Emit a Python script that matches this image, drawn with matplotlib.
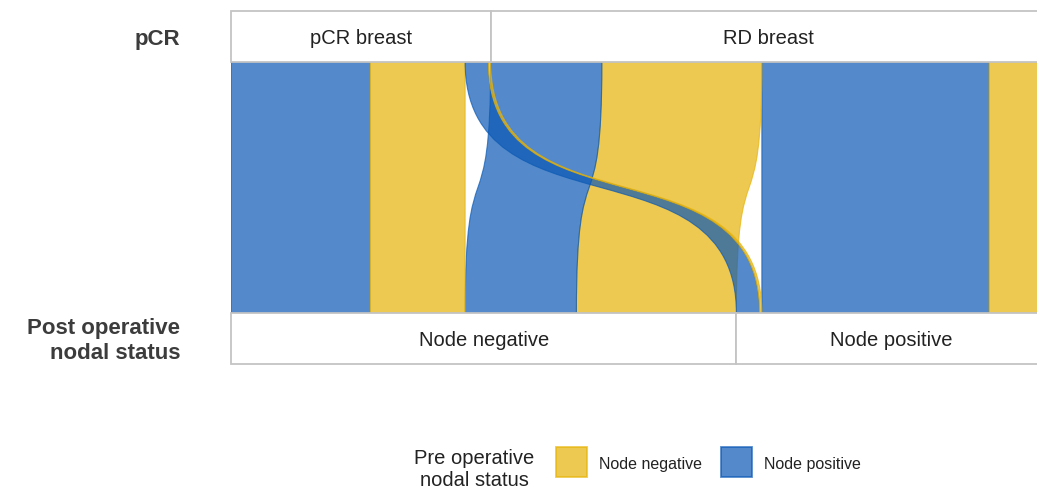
import matplotlib
matplotlib.use("Agg")
import matplotlib.pyplot as plt
from matplotlib.path import Path
from matplotlib.patches import PathPatch, Rectangle

plt.rcParams['font.family'] = ['Liberation Sans', 'DejaVu Sans']

# ---------------- data ----------------
top_categories = ['pCR breast', 'RD breast']
bottom_categories = ['Node negative', 'Node positive']
pre_status = ['Node positive', 'Node negative']          # ordering inside a category
legend_status = ['Node negative', 'Node positive']

flow_top = ['pCR breast', 'pCR breast', 'pCR breast', 'pCR breast',
            'RD breast', 'RD breast', 'RD breast', 'RD breast']
flow_post = ['Node negative', 'Node negative', 'Node positive', 'Node positive',
             'Node negative', 'Node negative', 'Node positive', 'Node positive']
flow_pre = ['Node positive', 'Node negative', 'Node positive', 'Node negative',
            'Node positive', 'Node negative', 'Node positive', 'Node negative']
flow_count = [60, 41, 10, 1, 48, 69, 98, 25]

top_title = 'pCR'
bottom_title = 'Post operative\nnodal status'
legend_title = 'Pre operative\nnodal status'

# ---------------- styles ----------------
base_colors = {'Node positive': (11/255, 89/255, 181/255),
               'Node negative': (231/255, 179/255, 8/255)}
ALPHA = 0.7
BOX_EDGE = '#c4c4c4'
W, H = 1037, 488

fig = plt.figure(figsize=(W/100, H/100), dpi=100)
total = sum(flow_count)
# axes spans from x=231 px over 816 px (extends beyond the right border -> clipped)
ax = fig.add_axes([231/W, (H-364)/H, 816/W, (364-11)/H])
ax.set_xlim(0, total)
ax.set_ylim(364, 11)
ax.axis('off')

Y_TOP0, Y_TOP1 = 11, 62
Y_BOT0, Y_BOT1 = 313, 364

# ---------------- category extents ----------------
def cat_sizes(keys, cats):
    return {c: sum(n for k, n in zip(keys, flow_count) if k == c) for c in cats}

top_size = cat_sizes(flow_top, top_categories)
bot_size = cat_sizes(flow_post, bottom_categories)

def starts(cats, sizes):
    s, acc = {}, 0
    for c in cats:
        s[c] = acc
        acc += sizes[c]
    return s

top_start = starts(top_categories, top_size)
bot_start = starts(bottom_categories, bot_size)

# ribbon positions: top ordered by post category then pre status; bottom by top category then pre status
idx = list(range(len(flow_count)))
top_pos, bot_pos = {}, {}
for tc in top_categories:
    acc = top_start[tc]
    members = [i for i in idx if flow_top[i] == tc]
    members.sort(key=lambda i: (bottom_categories.index(flow_post[i]), pre_status.index(flow_pre[i])))
    for i in members:
        top_pos[i] = acc
        acc += flow_count[i]
for bc in bottom_categories:
    acc = bot_start[bc]
    members = [i for i in idx if flow_post[i] == bc]
    members.sort(key=lambda i: (top_categories.index(flow_top[i]), pre_status.index(flow_pre[i])))
    for i in members:
        bot_pos[i] = acc
        acc += flow_count[i]

# ---------------- ribbons ----------------
K = 0.7
y0, y1 = Y_TOP1, Y_BOT0
dy = y1 - y0
def ribbon(xt0, xt1, xb0, xb1):
    verts = [(xt0, y0), (xt0, y0 + K*dy), (xb0, y1 - K*dy), (xb0, y1),
             (xb1, y1), (xb1, y1 - K*dy), (xt1, y0 + K*dy), (xt1, y0), (xt0, y0)]
    codes = [Path.MOVETO, Path.CURVE4, Path.CURVE4, Path.CURVE4,
             Path.LINETO, Path.CURVE4, Path.CURVE4, Path.CURVE4, Path.CLOSEPOLY]
    return Path(verts, codes)

draw_order = sorted(idx, key=lambda i: flow_count[i], reverse=True)
for i in draw_order:
    n = flow_count[i]
    p = ribbon(top_pos[i], top_pos[i] + n, bot_pos[i], bot_pos[i] + n)
    c = base_colors[flow_pre[i]]
    ax.add_patch(PathPatch(p, facecolor=c, edgecolor=c, lw=0.8, alpha=ALPHA))

# ---------------- category boxes ----------------
def boxes(cats, start, size, ya, yb):
    for c in cats:
        ax.add_patch(Rectangle((start[c], ya), size[c], yb - ya, facecolor='white',
                               edgecolor=BOX_EDGE, lw=1.3, clip_on=False, zorder=3))
        ax.text(start[c] + size[c]/2, (ya + yb)/2 + 2, c, ha='center', va='center',
                fontsize=14.5, color='#222222', zorder=4)

boxes(top_categories, top_start, top_size, Y_TOP0, Y_TOP1)
boxes(bottom_categories, bot_start, bot_size, Y_BOT0, Y_BOT1)

# ---------------- dimension titles ----------------
fig.text(180/W, 1 - 39/H, top_title, ha='right', va='center', fontsize=16,
         fontweight='bold', color='#3c3c3c')
fig.text(180/W, 1 - 341/H, bottom_title, ha='right', va='center', fontsize=16,
         fontweight='bold', color='#3c3c3c', multialignment='right', linespacing=1.25)

# ---------------- legend ----------------
fig.text(474/W, 1 - 469/H, legend_title, ha='center', va='center', fontsize=14.5,
         color='#222222', multialignment='center', linespacing=1.2)
sq_x = [556, 721]
for k, st in enumerate(legend_status):
    c = base_colors[st]
    fig.add_artist(Rectangle((sq_x[k]/W, 1 - 477/H), 31/W, 30/H, transform=fig.transFigure,
                             facecolor=c, edgecolor=c, lw=1.3, alpha=ALPHA))
    fig.text((sq_x[k] + 43)/W, 1 - 464/H, st, ha='left', va='center', fontsize=11.5,
             color='#222222')

fig.savefig('out.png', dpi=100)
